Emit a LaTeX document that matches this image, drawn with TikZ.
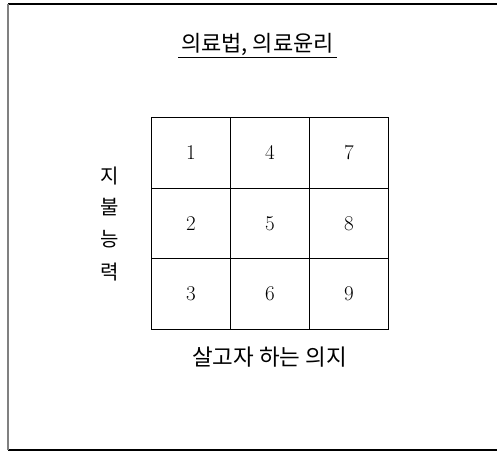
\documentclass[tikz,border=0pt]{standalone}
\usepackage{fontspec}
\newfontfamily\kr{Noto Sans CJK KR}
\begin{document}
\begin{tikzpicture}[x=1pt,y=-1pt,
  cell/.style={draw=black, line width=1pt, minimum width=79pt, minimum height=70.67pt, inner sep=0pt, anchor=north west, font=\fontsize{21}{23}\selectfont},
  krtext/.style={font=\kr\fontsize{20}{22}\selectfont, inner sep=0pt},
  frameline/.style={line width=1.2pt}]
\useasboundingbox (0,0) rectangle (497,452);
\fill[white] (0,0) rectangle (497,452);
\draw[frameline, black] (8,4) -- (497,4);
\draw[frameline, black] (8,450) -- (497,450);
\draw[line width=1.6pt, gray] (8,4) -- (8,450);
% title
\node[krtext, font=\kr\fontsize{22}{24}\selectfont] (title) at (257.5,44) {의료법, 의료윤리};
\draw[line width=0.8pt] (178,57) -- (337,57);
% grid
\foreach \c [count=\ci from 0] in {0,1,2}{
  \foreach \r [count=\ri from 0] in {0,1,2}{
    \pgfmathtruncatemacro{\num}{\ci*3+\ri+1}
    \node[cell] (c\num) at (151+79*\ci,117+70.67*\ri) {\num};
  }
}
% vertical label
\node[krtext] (v1) at (110,176) {지};
\node[krtext] (v2) at (110,207) {불};
\node[krtext] (v3) at (110,239) {능};
\node[krtext] (v4) at (110,272) {력};
% bottom label
\node[krtext, font=\kr\fontsize{22.5}{24}\selectfont] (xlab) at (269.5,357) {살고자 하는 의지};
\end{tikzpicture}
\end{document}
